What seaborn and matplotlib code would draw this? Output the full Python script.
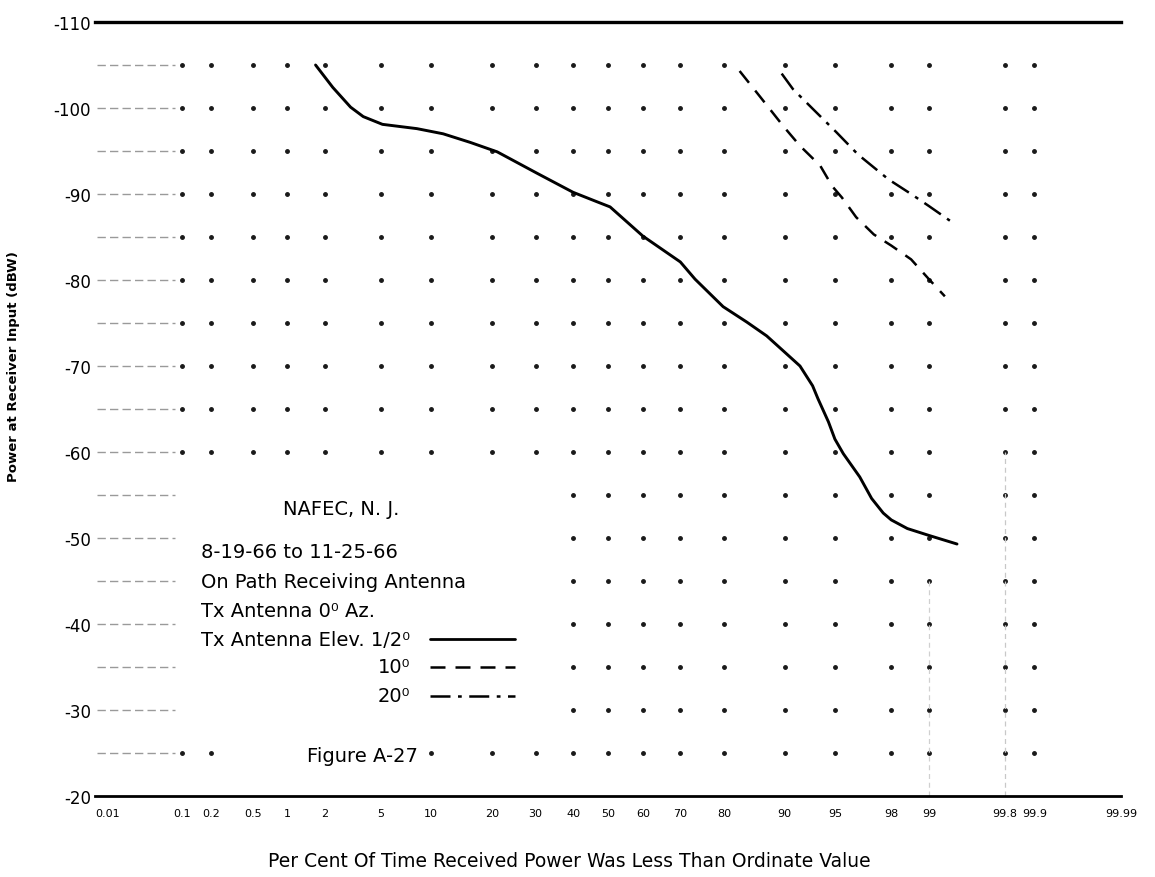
"""
plot.py
Figure A-27 — NAFEC, N.J. received power distribution (probability paper)
"""

import numpy as np
import matplotlib
matplotlib.use("Agg")  # sin pantalla
import matplotlib.pyplot as plt
from matplotlib.lines import Line2D
import seaborn as sns
from statistics import NormalDist


# ─────────────────────────────────────────────
# DATOS
# ─────────────────────────────────────────────
PCT_HALF = [1.7, 2.3, 3.1, 3.8, 5.1, 8.3, 11.6, 15.9, 21.1, 30.4, 40.0, 46.8,
            50.6, 60.0, 70.0, 73.6, 79.8, 84.3, 87.5, 90.0, 91.8, 93.1, 93.6,
            94.5, 95.0, 95.6, 96.6, 97.2, 97.7, 98.0, 98.5, 99.0, 99.43]
DB_HALF = [-105.0, -102.4, -100.1, -99.0, -98.1, -97.6, -97.0, -96.0, -94.9,
           -92.4, -90.2, -89.1, -88.5, -85.1, -82.1, -80.1, -76.9, -75.1,
           -73.5, -71.6, -70.0, -67.7, -66.2, -63.5, -61.5, -59.8, -57.1,
           -54.6, -52.9, -52.1, -51.1, -50.3, -49.3]

PCT_10 = [83.0, 86.5, 89.8, 91.8, 93.8, 94.8, 95.5, 96.4, 97.3, 98.0, 98.6,
          99.0, 99.27]
DB_10 = [-104.3, -101.3, -97.9, -95.6, -93.3, -90.9, -89.6, -87.3, -85.3,
         -84.0, -82.4, -80.1, -78.1]

PCT_20 = [89.6, 91.0, 93.2, 95.1, 96.5, 97.9, 98.6, 99.0, 99.34]
DB_20 = [-104.0, -102.2, -99.8, -97.2, -94.6, -91.7, -90.0, -88.6, -86.9]

X_TICKS = [0.01, 0.1, 0.2, 0.5, 1, 2, 5, 10, 20, 30, 40, 50, 60, 70, 80, 90,
           95, 98, 99, 99.8, 99.9, 99.99]
X_LABELS = ["0.01", "0.1", "0.2", "0.5", "1", "2", "5", "10", "20", "30", "40",
            "50", "60", "70", "80", "90", "95", "98", "99", "99.8", "99.9",
            "99.99"]
Y_TICKS = [-110, -100, -90, -80, -70, -60, -50, -40, -30, -20]
Y_LABELS = ["-110", "-100", "-90", "-80", "-70", "-60", "-50", "-40", "-30",
            "-20"]

# retícula de puntos del papel de probabilidad
GRID_PCT = [0.1, 0.2, 0.5, 1, 2, 5, 10, 20, 30, 40, 50, 60, 70, 80, 90, 95,
            98, 99, 99.8, 99.9]
GRID_DB = list(range(-105, -24, 5))


# ─────────────────────────────────────────────
# ESCALA DE PROBABILIDAD NORMAL
# ─────────────────────────────────────────────
_nd = NormalDist()
_ppf = np.vectorize(lambda v: _nd.inv_cdf(v / 100.0), otypes=[float])
_cdf = np.vectorize(lambda v: _nd.cdf(v) * 100.0, otypes=[float])


def probit(p):
    p = np.clip(np.asarray(p, dtype=float), 1e-7, 100 - 1e-7)
    return _ppf(p)


def probit_inv(z):
    z = np.clip(np.asarray(z, dtype=float), -8, 8)
    return _cdf(z)


# ─────────────────────────────────────────────
# FIGURA
# ─────────────────────────────────────────────
sns.set_style("white")
plt.rcParams["font.family"] = ["DejaVu Sans"]
plt.rcParams["text.color"] = "black"
plt.rcParams["xtick.color"] = "black"
plt.rcParams["ytick.color"] = "black"

fig = plt.figure(figsize=(11.55, 8.78), dpi=100)
ax = fig.add_axes([95 / 1155, 81 / 878, 1026 / 1155, 774 / 878])
ax.set_xscale("function", functions=(probit, probit_inv))
ax.set_xlim(0.01, 99.99)
ax.set_ylim(-20, -110)

# puntos de la retícula (sin los que quedan bajo el bloque de texto)
gx, gy = np.meshgrid(GRID_PCT, GRID_DB)
gx, gy = gx.ravel(), gy.ravel()
bajo_texto = (gy >= -55) & (gy <= -30) & (gx <= 30)
bajo_figura = (gy == -25) & (gx >= 0.5) & (gx <= 5)
mask = ~(bajo_texto | bajo_figura)
ax.plot(gx[mask], gy[mask], ls="none", marker="o", ms=2.5, color="#1a1a1a",
        zorder=1)

# líneas grises cortas a la izquierda
for v in GRID_DB:
    ax.plot([0.0105, 0.085], [v, v], color="#9a9a9a", lw=1.0, ls=(0, (6, 3)),
            zorder=1)
ax.plot([99.8, 99.8], [-20, -60], color="#c8c8c8", lw=0.9, ls=(0, (4, 3)))
ax.plot([99.0, 99.0], [-20, -45], color="#d0d0d0", lw=0.9, ls=(0, (4, 3)))

# curvas
sns.lineplot(x=PCT_HALF, y=DB_HALF, ax=ax, color="black", lw=2.1,
             sort=False, estimator=None)
sns.lineplot(x=PCT_10, y=DB_10, ax=ax, color="black", lw=1.8,
             sort=False, estimator=None, linestyle=(0, (6, 4)))
sns.lineplot(x=PCT_20, y=DB_20, ax=ax, color="black", lw=1.8,
             sort=False, estimator=None, linestyle=(0, (8, 3, 1.5, 3)))

# ejes
ax.set_xticks(X_TICKS)
ax.set_xticklabels(X_LABELS, fontsize=8)
ax.set_yticks(Y_TICKS)
ax.set_yticklabels(Y_LABELS, fontsize=12)
ax.tick_params(axis="both", length=0, colors="black")
ax.tick_params(axis="x", pad=9)
ax.tick_params(axis="y", pad=3)
ax.xaxis.get_majorticklabels()[0].set_horizontalalignment("left")
ax.minorticks_off()
for lado in ("left", "right"):
    ax.spines[lado].set_visible(False)
ax.spines["top"].set_linewidth(2.4)
ax.spines["bottom"].set_linewidth(2.0)
ax.spines["top"].set_color("black")
ax.spines["bottom"].set_color("black")
ax.set_xlabel("")
ax.set_ylabel("")

fig.text(569 / 1155, 1 - 862 / 878,
         "Per Cent Of Time Received Power Was Less Than Ordinate Value",
         ha="center", va="center", fontsize=13.5)
fig.text(14 / 1155, 1 - 367 / 878, "Power at Receiver Input (dBW)",
         ha="center", va="center", rotation=90, fontsize=9.5,
         fontweight="bold")


# bloque de texto / leyenda
def ftxt(x, y, s, ha="left"):
    fig.text(x / 1155, 1 - y / 878, s, ha=ha, va="center", fontsize=14)


ftxt(283, 510, "NAFEC, N. J.")
ftxt(201, 553, "8-19-66 to 11-25-66")
ftxt(201, 582, "On Path Receiving Antenna")
ftxt(201, 612, "Tx Antenna 0\u2070 Az.")
ftxt(201, 640, "Tx Antenna Elev. 1/2\u2070")
ftxt(410, 668, "10\u2070", ha="right")
ftxt(410, 697, "20\u2070", ha="right")
ftxt(307, 757, "Figure A-27")

estilos = [("-", 2.0, 640), ((0, (6, 4)), 1.8, 668),
           ((0, (8, 3, 1.5, 3)), 1.8, 697)]
for ls, lw, yy in estilos:
    fig.add_artist(Line2D([430 / 1155, 515 / 1155],
                          [1 - yy / 878, 1 - yy / 878],
                          transform=fig.transFigure, color="black",
                          lw=lw, ls=ls))

fig.savefig("out.png", dpi=100)
plt.close(fig)
